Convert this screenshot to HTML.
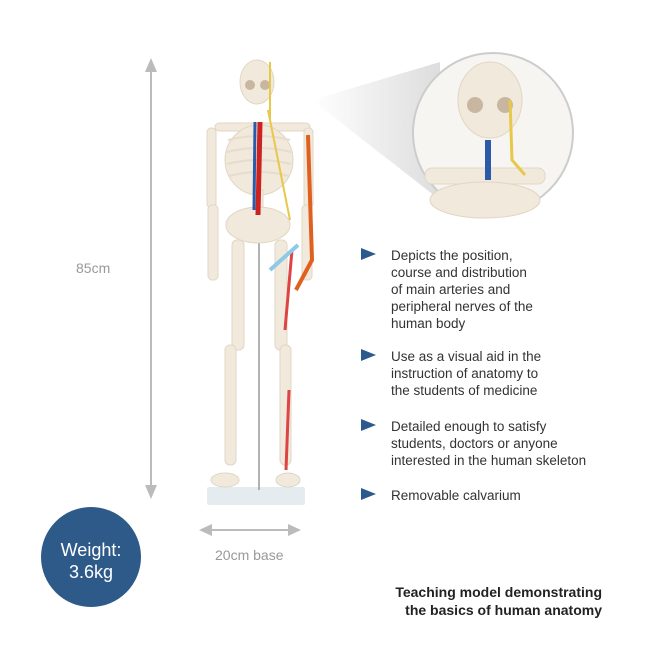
<!DOCTYPE html>
<html><head><style>
body{margin:0;width:652px;height:652px;background:#fff;position:relative;overflow:hidden;font-family:"Liberation Sans",sans-serif}
.t{position:absolute;color:#333;font-size:13.5px;line-height:17px}
</style></head><body>
<svg width="652" height="652" style="position:absolute;left:0;top:0">
<defs>
<linearGradient id="cone" x1="0" x2="1"><stop offset="0" stop-color="#fff"/><stop offset="1" stop-color="#ddd"/></linearGradient>
</defs>
<polygon points="312,100 440,62 440,200" fill="url(#cone)"/>
<!-- vertical arrow -->
<line x1="151" y1="68" x2="151" y2="490" stroke="#bbb" stroke-width="2"/>
<polygon points="151,58 145,72 157,72" fill="#bbb"/>
<polygon points="151,499 145,485 157,485" fill="#bbb"/>
<!-- horizontal arrow -->
<line x1="208" y1="530" x2="292" y2="530" stroke="#bbb" stroke-width="2"/>
<polygon points="199,530 212,524 212,536" fill="#bbb"/>
<polygon points="301,530 288,524 288,536" fill="#bbb"/>
<!-- base -->
<rect x="207" y="487" width="98" height="18" fill="#e4ecef" rx="2"/>
<line x1="259" y1="235" x2="259" y2="490" stroke="#999" stroke-width="1.5"/>
<g fill="#f1e9dc" stroke="#e2d6c4" stroke-width="1">
<ellipse cx="257" cy="82" rx="17" ry="22"/>
<rect x="215" y="123" width="95" height="8" rx="4"/>
<ellipse cx="259" cy="160" rx="34" ry="35"/>
<rect x="254" y="190" width="9" height="40"/>
<ellipse cx="258" cy="225" rx="32" ry="18"/>
<rect x="207" y="128" width="9" height="80" rx="4"/>
<rect x="208" y="205" width="10" height="75" rx="4"/>
<rect x="304" y="128" width="9" height="80" rx="4"/>
<rect x="302" y="205" width="10" height="75" rx="4"/>
<rect x="232" y="240" width="12" height="110" rx="5"/>
<rect x="275" y="240" width="12" height="110" rx="5"/>
<rect x="225" y="345" width="11" height="120" rx="5"/>
<rect x="280" y="345" width="11" height="120" rx="5"/>
<ellipse cx="225" cy="480" rx="14" ry="7"/>
<ellipse cx="288" cy="480" rx="12" ry="7"/>
</g>
<g fill="none" stroke="#e8dccc" stroke-width="2">
<path d="M228,140 Q259,132 290,140"/><path d="M227,152 Q259,144 291,152"/><path d="M227,164 Q259,156 291,164"/><path d="M229,176 Q259,168 289,176"/>
</g>
<ellipse cx="250" cy="85" rx="5" ry="5" fill="#c8b6a0"/><ellipse cx="265" cy="85" rx="5" ry="5" fill="#c8b6a0"/>
<path d="M260,122 L258,215" stroke="#c22" stroke-width="5"/>
<path d="M255,122 L254,210" stroke="#2a5aa8" stroke-width="3"/>
<path d="M308,135 L312,260 L296,290" stroke="#e06020" stroke-width="4" fill="none"/>
<path d="M292,250 L285,330 M289,390 L286,470" stroke="#d44" stroke-width="3" fill="none"/>
<path d="M270,62 L270,120 M268,110 L290,220" stroke="#e8c84a" stroke-width="2" fill="none"/>
<line x1="270" y1="270" x2="298" y2="245" stroke="#8ec9e8" stroke-width="4"/>
<!-- zoom circle -->
<circle cx="493" cy="133" r="80" fill="#f7f5f2" stroke="#ccc" stroke-width="2"/>
<g fill="#f1e9dc" stroke="#e2d6c4">
<ellipse cx="490" cy="100" rx="32" ry="38"/>
<rect x="425" y="168" width="120" height="16" rx="7"/>
<ellipse cx="485" cy="200" rx="55" ry="18"/>
</g>
<ellipse cx="475" cy="105" rx="8" ry="8" fill="#c8b6a0"/><ellipse cx="505" cy="105" rx="8" ry="8" fill="#c8b6a0"/>
<path d="M488,140 L488,180" stroke="#2a5aa8" stroke-width="6"/>
<path d="M510,100 L512,160 L525,175" stroke="#e8c84a" stroke-width="3" fill="none"/>
<!-- bullets -->
<g fill="#2d5a8c">
<polygon points="361,248 361,260 376,254"/>
<polygon points="361,349 361,361 376,355"/>
<polygon points="361,419 361,431 376,425"/>
<polygon points="361,488 361,500 376,494"/>
</g>
<circle cx="91" cy="557" r="50" fill="#2e5a8a"/>
</svg>
<div class="t" style="left:391px;top:247px">Depicts the position,<br>course and distribution<br>of main arteries and<br>peripheral nerves of the<br>human body</div>
<div class="t" style="left:391px;top:348px">Use as a visual aid in the<br>instruction of anatomy to<br>the students of medicine</div>
<div class="t" style="left:391px;top:418px">Detailed enough to satisfy<br>students, doctors or anyone<br>interested in the human skeleton</div>
<div class="t" style="left:391px;top:487px">Removable calvarium</div>
<div class="t" style="left:76px;top:260px;color:#999;font-size:14px">85cm</div>
<div class="t" style="left:215px;top:547px;color:#999;font-size:14px">20cm base</div>
<div style="position:absolute;left:41px;top:539px;width:100px;text-align:center;color:#fff;font-size:18px;line-height:22px">Weight:<br>3.6kg</div>
<div style="position:absolute;right:50px;top:583px;text-align:right;color:#222;font-weight:bold;font-size:14px;line-height:18px">Teaching model demonstrating<br>the basics of human anatomy</div>
</body></html>
